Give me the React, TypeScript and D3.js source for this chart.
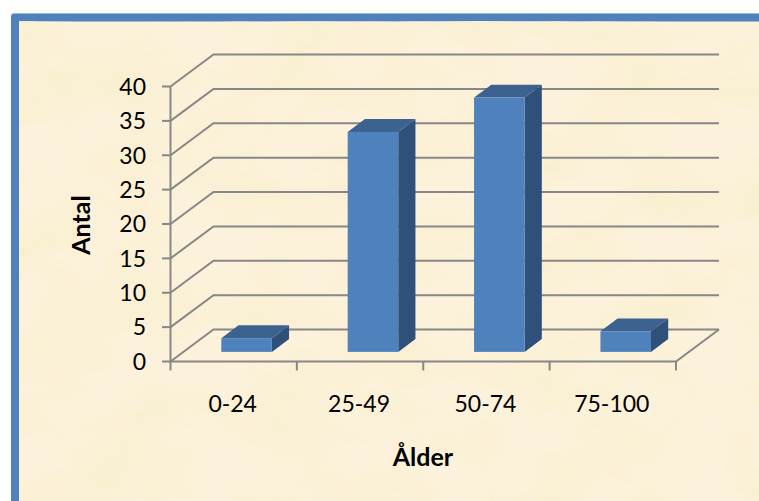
import React from "react";
import * as d3 from "d3";

const categories = ["0-24", "25-49", "50-74", "75-100"];
const counts = [2, 32, 37, 3];
const yTicks = [0, 5, 10, 15, 20, 25, 30, 35, 40];
const xTitle = "Ålder";
const yTitle = "Antal";

const W = 759;
const H = 501;
const FONT = "Lato, Carlito, Calibri, sans-serif";
const GRID = "#878787";

// Oblique projection: the back wall is offset from the front plane by this much.
const depthX = 43;
const depthY = -32;

const y = d3.scaleLinear().domain([0, 40]).range([361.5, 86.5]);
const x = d3.scaleBand<string>().domain(categories).range([170.5, 676]);
const barWidth = x.bandwidth() * 0.4;
// Bars stand on the floor part-way into the depth and occupy part of it.
const floorShift = 0.3;
const barDepth = 0.4;

function Bar({ label, value }: { label: string; value: number }) {
  const cx = (x(label) as number) + x.bandwidth() / 2 + depthX * floorShift;
  const x0 = cx - barWidth / 2;
  const x1 = cx + barWidth / 2;
  const yBase = y(0) + depthY * floorShift;
  const yTop = yBase - (y(0) - y(value));
  const dx = depthX * barDepth;
  const dy = depthY * barDepth;
  const line = d3.line();
  return (
    <g>
      <path
        d={line([[x0, yTop], [x1, yTop], [x1 + dx, yTop + dy], [x0 + dx, yTop + dy]]) + "Z"}
        fill="#3C6390"
      />
      <path
        d={line([[x1, yTop], [x1 + dx, yTop + dy], [x1 + dx, yBase + dy], [x1, yBase]]) + "Z"}
        fill="#2F5079"
      />
      <rect x={x0} y={yTop} width={x1 - x0} height={yBase - yTop} fill="#4F81BD" />
    </g>
  );
}

export default function App() {
  const line = d3.line();
  const xEdges = [...categories.map((c) => x(c) as number), 676];
  return (
    <svg
      width={W}
      height={H}
      viewBox={`0 0 ${W} ${H}`}
      style={{ position: "absolute", left: 0, top: 0, display: "block" }}
      fontFamily={FONT}
    >
      <defs>
        <filter id="parchment" x="0" y="0" width="100%" height="100%">
          <feTurbulence type="fractalNoise" baseFrequency="0.012 0.018" numOctaves="4" seed="11" />
          <feColorMatrix
            type="matrix"
            values="0 0 0 0 0.95  0 0 0 0 0.87  0 0 0 0 0.64  2.6 0 0 0 -1.0"
          />
        </filter>
      </defs>

      <rect width={W} height={H} fill="#ffffff" />
      <rect x={11} y={13.5} width={W + 20} height={H + 20} rx={3} fill="#4F81BD" />
      <path d={`M11 16Q11 13.5 14 13.5H${W}`} fill="none" stroke="#9DB9DC" strokeWidth={1} />
      <rect x={19} y={21.5} width={W} height={H} fill="#FCF1DA" />
      <rect x={19} y={21.5} width={W} height={H} filter="url(#parchment)" />

      {/* Walls and floor */}
      <g fill="none" stroke={GRID} strokeWidth={2}>
        {yTicks.map((t) => (
          <path
            key={t}
            d={
              line([
                [170.5, y(t)],
                [170.5 + depthX, y(t) + depthY],
                [676 + depthX, y(t) + depthY],
              ]) as string
            }
          />
        ))}
        <path d={line([[170.5, y(40)], [170.5, y(0)], [676, y(0)], [676 + depthX, y(0) + depthY]]) as string} />
        {yTicks.map((t) => (
          <path key={t} d={line([[162, y(t)], [170.5, y(t)]]) as string} />
        ))}
        {xEdges.map((e) => (
          <path key={e} d={line([[e, y(0)], [e, y(0) + 9]]) as string} />
        ))}
      </g>

      {categories.map((c, i) => (
        <Bar key={c} label={c} value={counts[i]} />
      ))}

      <g fontSize={23} fill="#000000">
        {yTicks.map((t) => (
          <text key={t} x={146} y={y(t)} dy="0.36em" textAnchor="end">
            {t}
          </text>
        ))}
        {categories.map((c) => (
          <text key={c} x={(x(c) as number) + x.bandwidth() / 2 - 1} y={412} textAnchor="middle">
            {c}
          </text>
        ))}
      </g>

      <text x={423} y={466} textAnchor="middle" fontSize={25} fontWeight={700} fill="#000000">
        {xTitle}
      </text>
      <text
        transform="translate(90,225) rotate(-90)"
        textAnchor="middle"
        fontSize={25}
        fontWeight={700}
        fill="#000000"
      >
        {yTitle}
      </text>
    </svg>
  );
}
